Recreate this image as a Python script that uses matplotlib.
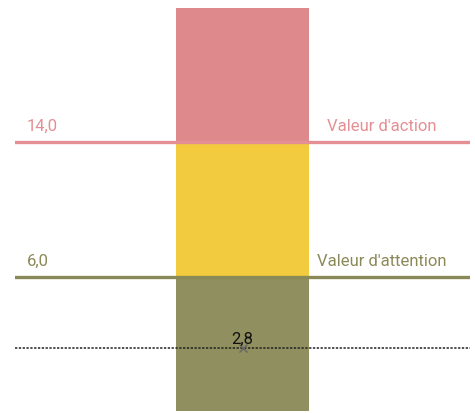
import numpy as np
import matplotlib.pyplot as plt

# zone limits (equal-height bands on the gauge)
zone_bounds = [0, 6, 14, 22]
zone_colors = ["#8f8f5f", "#f2cc3e", "#de898b"]
thresholds = [14.0, 6.0]
threshold_names = ["Valeur d'action", "Valeur d'attention"]
threshold_colors = ["#e48f93", "#8a8a58"]
value = 2.8

band_pos = np.arange(len(zone_bounds))


def fwd(v):
    return np.interp(v, zone_bounds, band_pos)


def inv(p):
    return np.interp(p, band_pos, zone_bounds)


plt.rcParams['font.family'] = ['Roboto', 'DejaVu Sans']

fig = plt.figure(figsize=(4.75, 4.14), dpi=100)
ax = fig.add_axes([15 / 475, 2 / 414, 455 / 475, 403 / 414])
ax.set_yscale('function', functions=(fwd, inv))
ax.set_xlim(-0.5, 0.5)
ax.set_ylim(zone_bounds[0], zone_bounds[-1])

for lo, hi, c in zip(zone_bounds[:-1], zone_bounds[1:], zone_colors):
    ax.bar(0, hi - lo, bottom=lo, width=0.292, color=c, zorder=1)

for t, name, c in zip(thresholds, threshold_names, threshold_colors):
    ax.axhline(t, color=c, lw=2.4, zorder=2)
    ax.annotate(f"{t:.1f}".replace(".", ","), xy=(-0.474, t), xytext=(0, 6.5),
                textcoords='offset points', color=c, fontsize=12,
                ha='left', va='bottom')
    ax.annotate(name, xy=(0.307, t), xytext=(0, 6.5),
                textcoords='offset points', color=c, fontsize=12,
                ha='center', va='bottom')

ax.axhline(value, color='#222222', lw=1.1, ls=(0, (1.5, 1)), zorder=3)
ax.plot(0, value, marker='x', color='#666666', ms=6, mew=1, zorder=4)
ax.annotate(f"{value:.1f}".replace(".", ","), xy=(0, value), xytext=(0, 2),
            textcoords='offset points', color='#111111', fontsize=12,
            ha='center', va='bottom', zorder=5)

ax.axis('off')
fig.savefig("out.png", dpi=100)
